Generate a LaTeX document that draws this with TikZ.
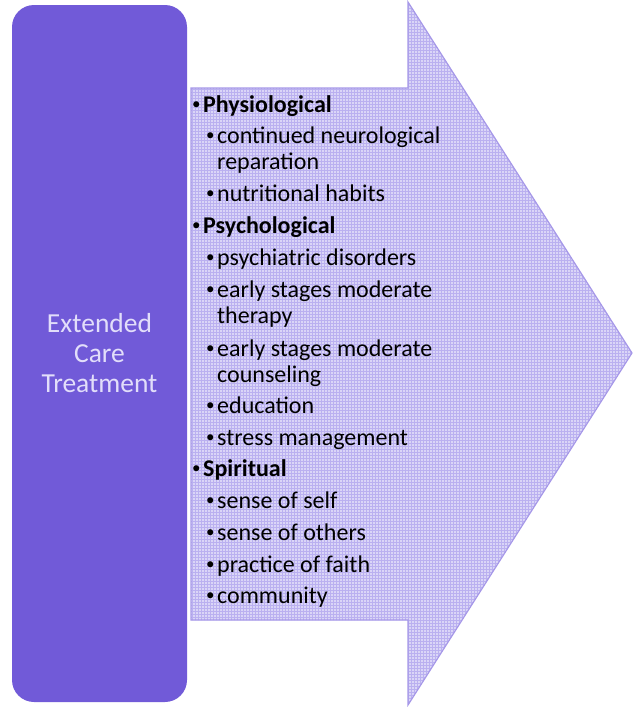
\documentclass[tikz,border=0pt]{standalone}
\usepackage{fontspec}
\setmainfont{Carlito}
\usepackage{tikz}
\usetikzlibrary{patterns}
\definecolor{boxC}{RGB}{113,90,216}
\definecolor{arrowC}{RGB}{218,213,247}
\definecolor{gridC}{RGB}{186,176,240}
\definecolor{edgeC}{RGB}{166,152,232}
\definecolor{labelC}{RGB}{226,222,250}

\begin{document}
\begin{tikzpicture}[x=1pt,y=-1pt,
        carebox/.style={fill=boxC,rounded corners=22pt,minimum width=175pt,minimum height=697pt,
                text=labelC,align=center,font=\fontsize{27.5}{30}\selectfont},
        head/.style={anchor=base west,inner sep=0pt,font=\fontsize{24}{26}\selectfont\bfseries},
        sub/.style={anchor=base west,inner sep=0pt,align=left,font=\fontsize{24}{26}\selectfont}]
        \useasboundingbox (0,0) rectangle (634,707);
        \newcommand\bul{\makebox[12pt][l]{\hspace{1pt}\raisebox{2.5pt}{\fontsize{17}{17}\selectfont\mdseries\textbullet}}}
        \newcommand\arrowPath{(191,88) -- (408,88) -- (408,2) -- (632,353) -- (408,705) -- (408,620) -- (191,620) -- cycle}
        % the big arrow
        \fill[arrowC] \arrowPath;
        \fill[pattern=grid,pattern color=gridC] \arrowPath;
        \draw[edgeC,line width=1.2pt] \arrowPath;
        % the box
        \node[carebox] (care) at (99.5,353.5) {Extended\\Care\\Treatment};
        % physiological
        \node[head] (phys) at (191,112) {\bul Physiological};
        \node[sub] (physA) at (205,169) {\bul continued neurological\\\hspace*{12pt}reparation};
        \node[sub] (physB) at (205,201) {\bul nutritional habits};
        % psychological
        \node[head] (psych) at (191,233) {\bul Psychological};
        \node[sub] (psychA) at (205,265) {\bul psychiatric disorders};
        \node[sub] (psychB) at (205,323) {\bul early stages moderate\\\hspace*{12pt}therapy};
        \node[sub] (psychC) at (205,382) {\bul early stages moderate\\\hspace*{12pt}counseling};
        \node[sub] (psychD) at (205,413) {\bul education};
        \node[sub] (psychE) at (205,445) {\bul stress management};
        % spiritual
        \node[head] (spir) at (191,476) {\bul Spiritual};
        \node[sub] (spirA) at (205,508) {\bul sense of self};
        \node[sub] (spirB) at (205,540) {\bul sense of others};
        \node[sub] (spirC) at (205,572) {\bul practice of faith};
        \node[sub] (spirD) at (205,603) {\bul community};
\end{tikzpicture}
\end{document}
